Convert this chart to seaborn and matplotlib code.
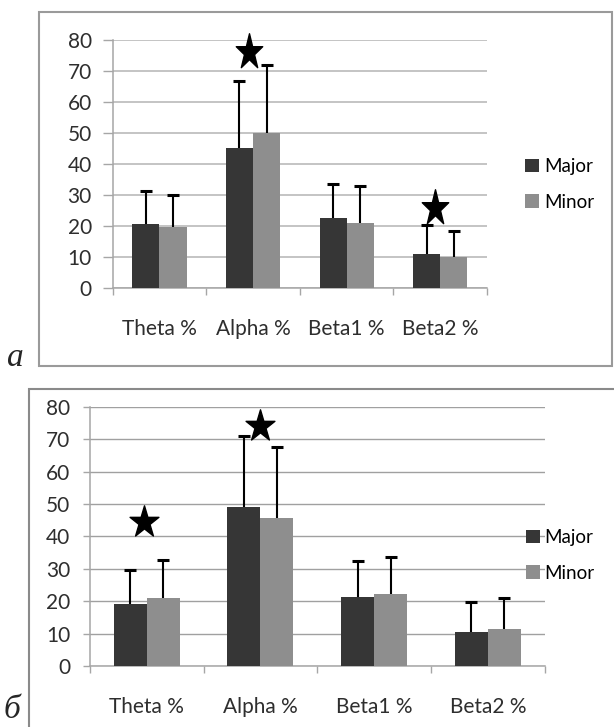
import numpy as np
import pandas as pd
import matplotlib
matplotlib.use("Agg")
import matplotlib.pyplot as plt
from matplotlib.patches import Rectangle
from matplotlib.path import Path
import seaborn as sns

# ---------------- data ----------------
bands = ["Theta %", "Alpha %", "Beta1 %", "Beta2 %"]
groups = ["Major", "Minor"]

a_major = [20.7, 45.1, 22.6, 11.1]
a_minor = [19.8, 50.0, 21.2, 10.0]
a_major_sd = [10.6, 21.7, 11.1, 9.3]
a_minor_sd = [10.1, 21.9, 11.9, 8.6]
a_star_x = [0.955, 2.94]
a_star_y = [76.0, 25.9]

b_major = [19.2, 49.0, 21.2, 10.4]
b_minor = [20.9, 45.6, 22.2, 11.5]
b_major_sd = [10.5, 22.0, 11.3, 9.2]
b_minor_sd = [11.9, 22.0, 11.3, 9.4]
b_star_x = [-0.02, 1.0]
b_star_y = [44.4, 73.9]

yticks = [0, 10, 20, 30, 40, 50, 60, 70, 80]

# ---------------- style ----------------
sns.set_style("white")
plt.rcParams["font.family"] = ["Lato", "DejaVu Sans"]
DARK = "#363636"
LIGHT = "#8e8e8e"
TXT = "#2e2e2e"

W, H = 614, 727
fig = plt.figure(figsize=(W / 100, H / 100), dpi=100)


def fx(px):
    return px / W


def fy(py):
    return 1 - py / H


def star_marker(stretch):
    pts = []
    for i in range(10):
        ang = np.pi / 2 + i * np.pi / 5
        r = 1.0 if i % 2 == 0 else 0.382
        pts.append((r * np.cos(ang) / stretch, r * np.sin(ang)))
    pts.append(pts[0])
    codes = [Path.MOVETO] + [Path.LINETO] * 9 + [Path.CLOSEPOLY]
    return Path(pts, codes)


def panel(rect, major, minor, major_sd, minor_sd, star_x, star_y,
          grid_color, grid_lw, ytick_len, ytick_pad, xpad, star_ms, star_stretch,
          leg_anchor):
    ax = fig.add_axes(rect)
    df = pd.DataFrame({
        "band": bands * 2,
        "group": [groups[0]] * 4 + [groups[1]] * 4,
        "value": list(major) + list(minor),
    })
    sns.barplot(data=df, x="band", y="value", hue="group", order=bands,
                hue_order=groups, palette=[DARK, LIGHT], width=0.58,
                saturation=1, errorbar=None, ax=ax, linewidth=0, zorder=3)
    sds = [major_sd, minor_sd]
    for cont, sd in zip(ax.containers, sds):
        xs = np.array([p.get_x() + p.get_width() / 2 for p in cont.patches])
        hs = np.array([p.get_height() for p in cont.patches])
        sd = np.asarray(sd)
        ax.errorbar(xs, hs, yerr=[np.zeros(len(sd)), sd], fmt="none",
                    ecolor="black", elinewidth=1.5, capsize=0, zorder=4)
        ax.plot(xs, hs + sd, linestyle="none", marker="_", markersize=8.4,
                markeredgewidth=2.2, color="black", zorder=4, clip_on=False)
    ax.plot(star_x, star_y, linestyle="none", marker=star_marker(star_stretch),
            markersize=star_ms, color="black", clip_on=False, zorder=5)

    ax.set_ylim(0, 80)
    ax.set_xlim(-0.5, 3.5)
    ax.set_yticks(yticks)
    ax.yaxis.grid(True, color=grid_color, linewidth=grid_lw, zorder=0)
    ax.set_axisbelow(True)
    ax.set_xlabel("")
    ax.set_ylabel("")
    for s in ["top", "right"]:
        ax.spines[s].set_visible(False)
    for s in ["left", "bottom"]:
        ax.spines[s].set_color("#a6a6a6")
        ax.spines[s].set_linewidth(1.1)
    ax.tick_params(axis="y", length=ytick_len, width=1.0, color="#a6a6a6",
                   pad=ytick_pad, labelsize=15, labelcolor=TXT, left=True)
    ax.set_xticks(range(4))
    ax.set_xticklabels(bands)
    ax.set_xticks(np.arange(-0.5, 4.0, 1.0), minor=True)
    ax.tick_params(axis="x", which="major", length=0, pad=xpad, labelsize=15,
                   labelcolor=TXT)
    ax.tick_params(axis="x", which="minor", length=5, width=1.0,
                   color="#a6a6a6", bottom=True, direction="out")
    handles, labels = ax.get_legend_handles_labels()
    ax.get_legend().remove()
    fig.legend(handles, labels, loc="upper left", bbox_to_anchor=leg_anchor,
               frameon=False, fontsize=13.5, handlelength=0.75,
               handleheight=0.75, handletextpad=0.25, labelspacing=1.0,
               borderpad=0, borderaxespad=0, labelcolor="black")
    return ax


# panel a
panel([fx(112.7), fy(288.3), fx(487) - fx(112.7), (288.3 - 40) / H],
      a_major, a_minor, a_major_sd, a_minor_sd, a_star_x, a_star_y,
      grid_color="#c4c4c4", grid_lw=1.4, ytick_len=7, ytick_pad=8, xpad=22,
      star_ms=27, star_stretch=1.35, leg_anchor=(fx(525), fy(158)))

# panel b
panel([fx(89.9), fy(666), fx(544.6) - fx(89.9), (666 - 406.7) / H],
      b_major, b_minor, b_major_sd, b_minor_sd, b_star_x, b_star_y,
      grid_color="#a0a0a0", grid_lw=1.0, ytick_len=5, ytick_pad=9, xpad=22,
      star_ms=24, star_stretch=1.1, leg_anchor=(fx(526), fy(529)))

# frames
fig.add_artist(Rectangle((fx(39), fy(366)), fx(612) - fx(39), (366 - 12) / H,
                         transform=fig.transFigure, fill=False,
                         edgecolor="#9a9a9a", linewidth=1.5))
fig.add_artist(Rectangle((fx(28.5), fy(740)), fx(640) - fx(28.5), (740 - 389) / H,
                         transform=fig.transFigure, fill=False,
                         edgecolor="#8a8a8a", linewidth=1.5))

# panel letters
fig.text(fx(7), fy(366), "а", family=["Liberation Serif", "DejaVu Serif"],
         style="italic", fontsize=24, ha="left", va="baseline")
fig.text(fx(4), fy(725), "б", family=["Liberation Serif", "DejaVu Serif"],
         style="italic", fontsize=24, ha="left", va="bottom")

fig.savefig("out.png", dpi=100)
